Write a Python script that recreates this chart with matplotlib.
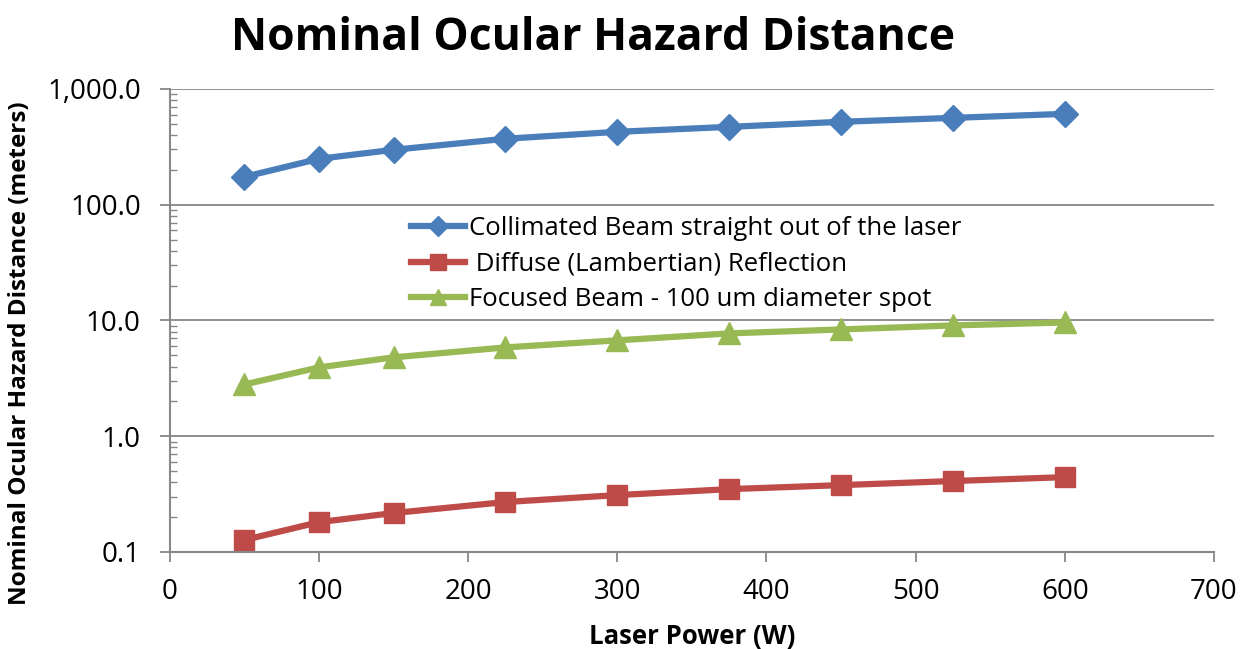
import numpy as np
import matplotlib.pyplot as plt
from matplotlib.ticker import FixedLocator, LogLocator, NullFormatter, FuncFormatter

plt.rcParams['font.family'] = ['Open Sans', 'DejaVu Sans']

power = [50, 100, 150, 225, 300, 375, 450, 525, 600]
collimated = [174, 249, 298, 371, 426, 470, 520, 562, 609]
diffuse = [0.127, 0.181, 0.217, 0.27, 0.31, 0.349, 0.378, 0.41, 0.443]
focused = [2.8, 3.93, 4.8, 5.85, 6.73, 7.73, 8.36, 9.06, 9.6]

labels = ["Collimated Beam straight out of the laser",
          " Diffuse (Lambertian) Reflection",
          "Focused Beam - 100 um diameter spot"]

fig = plt.figure(figsize=(12.4, 6.49), dpi=100)
ax = fig.add_axes([0.137, 0.1495, 0.842, 0.7135])

ax.plot(power, collimated, color="#4a7ebb", lw=4.5, marker="D", ms=13, label=labels[0])
ax.plot(power, diffuse, color="#be4b48", lw=4.5, marker="s", ms=15, label=labels[1])
ax.plot(power, focused, color="#98b954", lw=4.5, marker="^", ms=16, label=labels[2])

ax.set_yscale("log")
ax.set_ylim(0.1, 1000)
ax.set_xlim(0, 700)
ax.set_xticks(range(0, 701, 100))
ax.yaxis.set_major_locator(FixedLocator([0.1, 1, 10, 100, 1000]))
ax.yaxis.set_major_formatter(FuncFormatter(lambda v, p: f"{v:,.1f}"))
ax.yaxis.set_minor_locator(LogLocator(base=10, subs=np.arange(2, 10)))
ax.yaxis.set_minor_formatter(NullFormatter())

ax.grid(axis="y", which="major", color="#878787", lw=1.3)
for s in ["top", "right"]:
    ax.spines[s].set_visible(False)
for s in ["left", "bottom"]:
    ax.spines[s].set_color("#878787")
    ax.spines[s].set_linewidth(1.5)
ax.tick_params(axis="both", which="major", colors="#878787", labelcolor="black",
               labelsize=20, length=7, width=1.3)
ax.tick_params(axis="y", which="minor", colors="#878787", length=5, width=1, direction="in")
ax.tick_params(axis="y", pad=14)
ax.tick_params(axis="x", pad=12)

ax.set_xlabel("Laser Power (W)", fontsize=18.5, fontweight="bold", labelpad=12)
ax.set_ylabel("Nominal Ocular Hazard Distance (meters)", fontsize=17.5, fontweight="bold")
ax.yaxis.set_label_coords(-0.132, 0.43)
fig.suptitle("Nominal Ocular Hazard Distance", fontsize=32, fontweight="bold", x=0.478, y=0.975)

ax.legend(loc="upper left", bbox_to_anchor=(0.209, 0.775), frameon=False, fontsize=18.5,
          handlelength=2.1, handletextpad=0.15, labelspacing=0.4, markerscale=0.75)

fig.savefig("out.png", dpi=100)
